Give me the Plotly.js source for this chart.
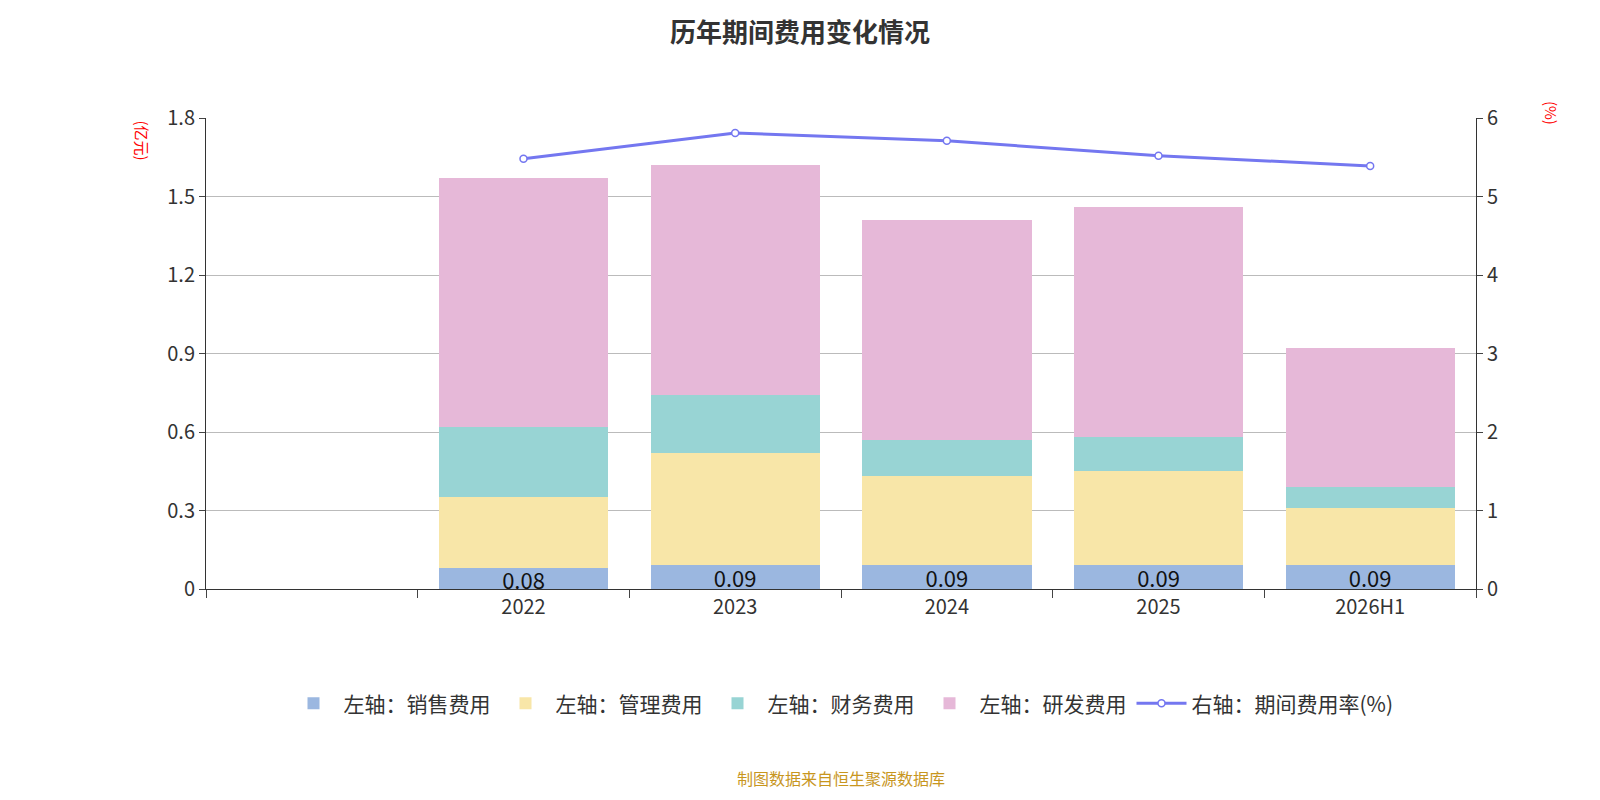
<!DOCTYPE html>
<html><head><meta charset="utf-8">
<script src="https://cdn.plot.ly/plotly-3.0.1.min.js"></script>
<style>body{margin:0}#chart{width:1600px;height:800px}</style>
</head><body><div id="chart"></div>
<script>
const years = [' ', '2022', '2023', '2024', '2025', '2026H1'];
const sales = [null, 0.08, 0.09, 0.09, 0.09, 0.09];
const admin = [null, 0.27, 0.43, 0.34, 0.36, 0.22];
const finance = [null, 0.27, 0.22, 0.14, 0.13, 0.08];
const rnd = [null, 0.95, 0.88, 0.84, 0.88, 0.53];
const rate = [null, 5.48, 5.81, 5.71, 5.52, 5.39];

const font = 'Noto Sans CJK SC, Noto Sans, sans-serif';
function bar(name, y, color, text) {
  return {
    type: 'bar', name: name, x: years, y: y, marker: {color: color}, width: 0.8,
    text: text ? y.map(v => v == null ? '' : v.toFixed(2)) : undefined,
    textposition: text ? 'inside' : 'none', insidetextanchor: 'middle', constraintext: 'none',
    cliponaxis: false, textfont: {size: 22, color: '#111'}, hoverinfo: 'y'
  };
}
const data = [
  bar('左轴：销售费用', sales, '#9bb7e0', true),
  bar('左轴：管理费用', admin, '#f8e6a8', false),
  bar('左轴：财务费用', finance, '#98d4d4', false),
  bar('左轴：研发费用', rnd, '#e6b8d8', false),
  {type: 'scatter', mode: 'lines+markers', name: '右轴：期间费用率(%)', x: years, y: rate, yaxis: 'y2',
   line: {color: '#7477f0', width: 3}, marker: {size: 7, color: '#fff', line: {color: '#7477f0', width: 1.5}}}
];
const layout = {
  width: 1600, height: 800, barmode: 'stack', paper_bgcolor: '#fff', plot_bgcolor: '#fff',
  font: {family: font, size: 20, color: '#333'},
  title: {text: '<b>历年期间费用变化情况</b>', x: 0.5, y: 0.97, font: {size: 26, color: '#333'}},
  margin: {l: 206, r: 124, t: 118, b: 211, autoexpand: false},
  xaxis: {type: 'category', categoryorder: 'array', categoryarray: years, tickson: 'boundaries', automargin: false,
    ticks: 'outside', ticklen: 8, showline: true, linecolor: '#333', showgrid: false, tickfont: {size: 20}},
  yaxis: {range: [0, 1.8], tickvals: [0, 0.3, 0.6, 0.9, 1.2, 1.5, 1.8], ticktext: ['0','0.3','0.6','0.9','1.2','1.5','1.8'],
    automargin: false, showline: true, linecolor: '#333', ticks: 'outside', ticklen: 6, gridcolor: '#bbb', zeroline: false},
  yaxis2: {overlaying: 'y', side: 'right', range: [0, 6], dtick: 1, showline: true, linecolor: '#333', automargin: false,
    ticks: 'outside', ticklen: 6, showgrid: false, zeroline: false},
  legend: {orientation: 'h', x: 0.5, xanchor: 'center', y: -0.2, yanchor: 'top', font: {size: 21}, traceorder: 'normal', itemwidth: 50},
  showlegend: true,
  annotations: [
    {text: '(亿元)', xref: 'paper', yref: 'paper', x: -0.05, y: 1, textangle: 90, showarrow: false, font: {size: 15, color: 'red'}, xanchor: 'center', yanchor: 'top'},
    {text: '(%)', xref: 'paper', yref: 'paper', x: 1.06, y: 1.04, textangle: 90, showarrow: false, font: {size: 15, color: 'red'}, xanchor: 'center', yanchor: 'top'},
    {text: '制图数据来自恒生聚源数据库', xref: 'paper', yref: 'paper', x: 0.5, y: -0.43, showarrow: false, font: {size: 16, color: '#c8961e'}, xanchor: 'center'}
  ]
};
Plotly.newPlot('chart', data, layout, {displayModeBar: false});
</script></body></html>
